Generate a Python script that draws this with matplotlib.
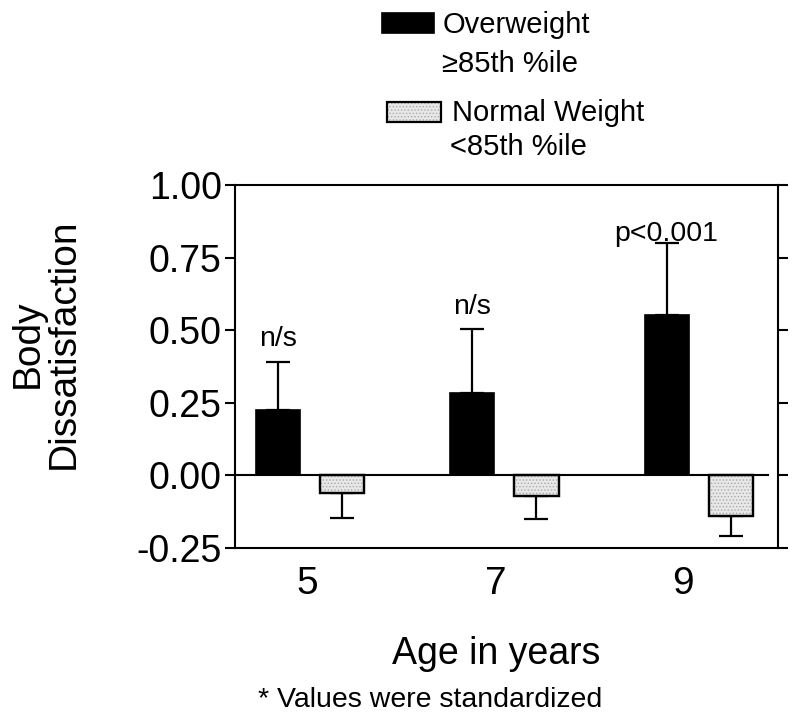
import numpy as np
import matplotlib
matplotlib.use("Agg")
import matplotlib.pyplot as plt
from matplotlib.patches import Rectangle

plt.rcParams['font.family'] = ['Liberation Sans', 'DejaVu Sans']
plt.rcParams['hatch.linewidth'] = 0.6

# data
ages = ['5', '7', '9']
overweight = [0.224, 0.284, 0.552]
overweight_err = [0.166, 0.218, 0.248]
normal = [-0.06, -0.071, -0.141]
normal_err = [0.089, 0.081, 0.069]
notes = ['n/s', 'n/s', 'p<0.001']
note_gap = [0.055, 0.055, 0.006]
yticks = [-0.25, 0.0, 0.25, 0.50, 0.75, 1.00]

W, H = 800, 719
fig = plt.figure(figsize=(W / 100, H / 100), dpi=100)
ax = fig.add_axes([235 / W, 1 - 547.7 / H, (778 - 235) / W, (547.7 - 185) / H])

x = np.arange(len(ages))
bw = 0.227
off = 0.165
gray = '#e8e8e8'
speck = '#a8a8a8'

ax.bar(x - off, overweight, bw, color='black', edgecolor='black', linewidth=1.2, zorder=2)
ax.errorbar(x - off, overweight, yerr=[np.zeros(3), overweight_err], fmt='none',
            ecolor='black', elinewidth=1.6, capsize=8.5, capthick=1.6, zorder=1)
ax.bar(x + off, normal, bw, color=gray, edgecolor='black', linewidth=1.6, zorder=2)
# stippled look on the normal weight bars
ax.bar(x + off, normal, bw, facecolor='none', edgecolor=speck, hatch='.....',
       linewidth=0, zorder=2.1)
ax.bar(x + off, normal, bw, facecolor='none', edgecolor='black', linewidth=1.6, zorder=2.2)
ax.errorbar(x + off, normal, yerr=[normal_err, np.zeros(3)], fmt='none',
            ecolor='black', elinewidth=1.6, capsize=8.5, capthick=1.6, zorder=1)

ax.axhline(0, xmin=0, xmax=0.982, color='black', lw=1.5, zorder=3)

for i in range(len(ages)):
    ax.text(x[i] - off, overweight[i] + overweight_err[i] + note_gap[i], notes[i],
            ha='center', va='baseline', fontsize=20.5)

ax.set_xlim(-0.388, 2.409)
ax.set_ylim(-0.25, 1.00)
ax.set_yticks(yticks)
ax.set_yticklabels(['%.2f' % v for v in yticks])
ax.set_xticks(x - np.array([0.015, 0.045, 0.08]))
ax.set_xticklabels(ages)

for s in ax.spines.values():
    s.set_linewidth(1.5)
ax.tick_params(axis='y', which='both', direction='out', length=7.5, width=1.5,
               left=True, right=True, labelright=False, labelsize=27, pad=2)
ax.tick_params(axis='x', length=0, labelsize=28, pad=13)

fig.text(46 / W, 1 - 343.5 / H, 'Body\nDissatisfaction', rotation=90,
         ha='center', va='center', multialignment='center', fontsize=28, linespacing=1.0)
fig.text(496 / W, 1 - 664 / H, 'Age in years', ha='center', va='baseline', fontsize=27)
fig.text(430 / W, 1 - 706.7 / H, '* Values were standardized', ha='center',
         va='baseline', fontsize=20.5)

# legend drawn by hand so the swatch sits on the first line
fig.patches.append(Rectangle((381.7 / W, 1 - 33.3 / H), 52.6 / W, 20.6 / H,
                             transform=fig.transFigure, facecolor='black',
                             edgecolor='black', lw=1.2))
fig.text(442.7 / W, 1 - 33 / H, 'Overweight', ha='left', va='baseline', fontsize=21)
fig.text(441.7 / W, 1 - 71.7 / H, '≥85th %ile', ha='left', va='baseline', fontsize=21)
fig.patches.append(Rectangle((386.7 / W, 1 - 121.7 / H), 54 / W, 20 / H,
                             transform=fig.transFigure, facecolor=gray,
                             edgecolor=speck, hatch='.....', lw=0))
fig.patches.append(Rectangle((386.7 / W, 1 - 121.7 / H), 54 / W, 20 / H,
                             transform=fig.transFigure, facecolor='none',
                             edgecolor='black', lw=1.6))
fig.text(451.7 / W, 1 - 120.7 / H, 'Normal Weight', ha='left', va='baseline', fontsize=21)
fig.text(450 / W, 1 - 155 / H, '<85th %ile', ha='left', va='baseline', fontsize=21)

fig.savefig('out.png', dpi=100)
